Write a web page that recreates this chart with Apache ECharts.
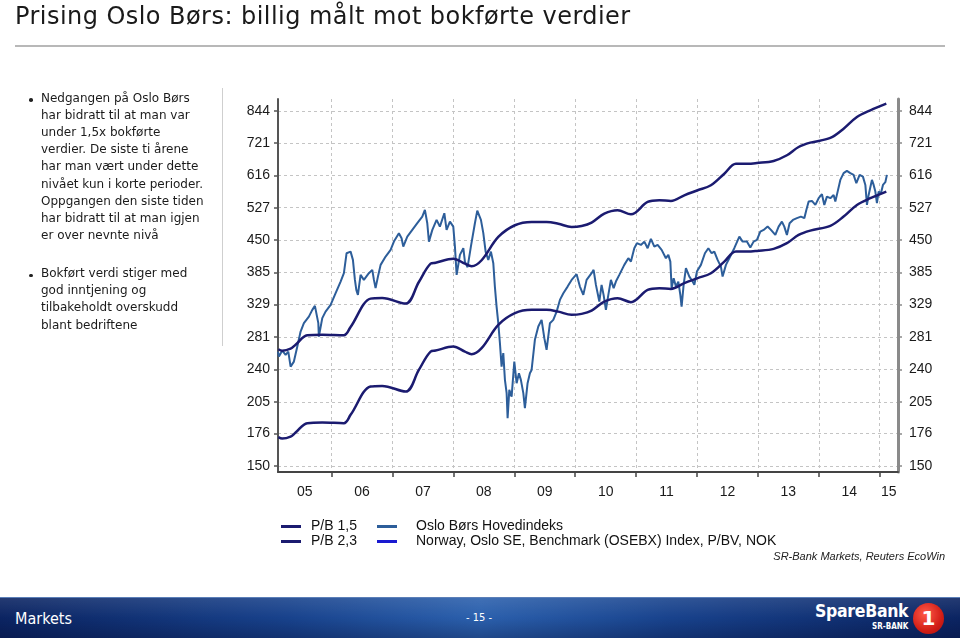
<!DOCTYPE html>
<html>
<head>
<meta charset="utf-8">
<script src="https://cdn.jsdelivr.net/npm/echarts@6/dist/echarts.min.js"></script>
<style>
html,body{margin:0;padding:0;background:#fff;width:960px;height:640px;overflow:hidden;}
#chart{position:absolute;left:0;top:0;width:960px;height:640px;}
.title{position:absolute;left:15px;top:4px;font-family:"DejaVu Sans",Verdana,sans-serif;font-size:24px;line-height:24px;letter-spacing:0.45px;color:#1a1a1a;white-space:nowrap;}
.rule{position:absolute;left:15px;top:45px;width:930px;height:2px;background:#b8b8b8;}
.divider{position:absolute;left:222px;top:88px;width:1px;height:258px;background:#cfcfcf;}
.b{position:absolute;left:41px;font-family:"DejaVu Sans",Verdana,sans-serif;font-size:12px;line-height:17.2px;color:#1a1a1a;white-space:nowrap;}
.b:before{content:"";position:absolute;left:-12px;top:8.5px;width:3.6px;height:3.6px;border-radius:50%;background:#222;}
.footer{position:absolute;left:0;top:597px;width:960px;height:41px;background:linear-gradient(90deg,#0b2462 0%,#18428c 30%,#2b60ad 50%,#18428c 70%,#0b2462 100%);border-top:1px solid #5b7fb8;box-sizing:border-box;}
.footer .shade{position:absolute;left:0;top:0;right:0;bottom:0;background:linear-gradient(180deg,rgba(255,255,255,0.10) 0%,rgba(255,255,255,0) 50%,rgba(0,0,30,0.25) 100%);}
.mk{position:absolute;left:15px;top:610px;font-family:"DejaVu Sans Condensed","Liberation Sans Narrow",sans-serif;font-size:16px;line-height:17px;color:#fff;}
.pg{position:absolute;left:466px;top:612px;font-family:"DejaVu Sans Condensed",sans-serif;font-size:11px;line-height:12px;color:#fff;}
.sb{position:absolute;left:815px;top:602px;font-family:"DejaVu Sans Condensed","Liberation Sans Narrow",sans-serif;font-weight:bold;font-size:17.5px;line-height:18px;color:#fff;letter-spacing:-0.3px;}
.sr{position:absolute;left:872px;top:622px;font-family:"DejaVu Sans Condensed",sans-serif;font-weight:bold;font-size:8px;line-height:9px;color:#fff;}
.one{position:absolute;left:913px;top:603px;width:31px;height:31px;border-radius:50%;background:radial-gradient(circle at 40% 35%,#ff5a4a,#d21e16 60%,#a50f0c);color:#fff;font-family:"DejaVu Sans",sans-serif;font-weight:bold;font-size:20px;line-height:31px;text-align:center;}
</style>
</head>
<body>
<div id="chart"></div>
<div class="title">Prising Oslo Børs: billig målt mot bokførte verdier</div>
<div class="rule"></div>
<div class="divider"></div>
<div class="b" style="top:89.5px">Nedgangen på Oslo Børs<br>har bidratt til at man var<br>under 1,5x bokførte<br>verdier. De siste ti årene<br>har man vært under dette<br>nivået kun i korte perioder.<br>Oppgangen den siste tiden<br>har bidratt til at man igjen<br>er over nevnte nivå</div>
<div class="b" style="top:265px">Bokført verdi stiger med<br>god inntjening og<br>tilbakeholdt overskudd<br>blant bedriftene</div>
<div class="footer"><div class="shade"></div></div>
<div class="mk">Markets</div>
<div class="pg">- 15 -</div>
<div class="sb">SpareBank</div>
<div class="sr">SR-BANK</div>
<div class="one">1</div>
<script>
// ---------- data ----------
const yTickValues = [150, 176, 205, 240, 281, 329, 385, 450, 527, 616, 721, 844];
const yearTicks = [2006, 2007, 2008, 2009, 2010, 2011, 2012, 2013, 2014, 2015];
const yearLabels = ['05', '06', '07', '08', '09', '10', '11', '12', '13', '14', '15'];

const pbYears = [2005.125, 2005.19, 2005.327, 2005.409, 2005.60, 2005.847, 2006.202, 2006.312, 2006.640, 2006.83,
  2007.215, 2007.433, 2007.626, 2007.708, 2007.998, 2008.189, 2008.299, 2008.463, 2008.737, 2009.010,
  2009.284, 2009.530, 2009.722, 2009.941, 2010.105, 2010.269, 2010.478, 2010.696, 2010.915, 2011.189,
  2011.381, 2011.571, 2011.791, 2012.010, 2012.228, 2012.448, 2012.639, 2012.831, 2012.984, 2013.258,
  2013.476, 2013.668, 2013.860, 2014.189, 2014.407, 2014.626, 2014.846, 2015.108];
const pb15 = [172.7, 171.5, 173.2, 176.6, 184.9, 185.4, 184.9, 192.5, 220.9, 221.6,
  215.6, 239.5, 261.8, 263.1, 268.3, 261.8, 258.6, 266.2, 298.1, 315.6,
  320.7, 320.7, 318.0, 313.0, 314.5, 319.6, 333.9, 339.5, 332.9, 353.4,
  356.4, 355.1, 365.1, 374.1, 383.3, 405.5, 425.7, 425.7, 427.2, 431.4,
  443.5, 461.7, 471.5, 482.4, 504.7, 534.2, 551.9, 569.9];
const pb23 = [264.8, 263.0, 265.6, 270.8, 283.5, 284.3, 283.5, 295.2, 338.7, 339.8,
  330.6, 367.2, 401.4, 403.4, 411.4, 401.4, 396.5, 408.2, 457.1, 483.9,
  491.7, 491.7, 487.6, 479.9, 482.2, 490.1, 512.0, 520.6, 510.4, 541.9,
  546.5, 544.5, 559.8, 573.6, 587.7, 621.8, 652.7, 652.7, 655.0, 661.5,
  680.0, 707.9, 723.0, 739.7, 773.9, 819.1, 846.2, 873.8];

const idxYears = [2005.12, 2005.135, 2005.19, 2005.245, 2005.289, 2005.327, 2005.381, 2005.437, 2005.491, 2005.545,
  2005.627, 2005.683, 2005.726, 2005.754, 2005.782, 2005.791, 2005.847, 2005.901, 2005.984, 2006.066,
  2006.148, 2006.202, 2006.246, 2006.312, 2006.350, 2006.383, 2006.406, 2006.432, 2006.476, 2006.530,
  2006.612, 2006.668, 2006.695, 2006.722, 2006.767, 2006.805, 2006.887, 2006.969, 2007.023, 2007.105,
  2007.149, 2007.177, 2007.243, 2007.325, 2007.407, 2007.489, 2007.532, 2007.571, 2007.598, 2007.654,
  2007.724, 2007.778, 2007.851, 2007.888, 2007.943, 2007.998, 2008.025, 2008.053, 2008.107, 2008.163,
  2008.189, 2008.233, 2008.287, 2008.353, 2008.392, 2008.452, 2008.491, 2008.529, 2008.573, 2008.616,
  2008.655, 2008.681, 2008.709, 2008.737, 2008.764, 2008.791, 2008.819, 2008.846, 2008.874, 2008.890,
  2008.918, 2008.956, 2009.000, 2009.038, 2009.076, 2009.108, 2009.148, 2009.174, 2009.218, 2009.256,
  2009.284, 2009.338, 2009.394, 2009.448, 2009.493, 2009.530, 2009.585, 2009.640, 2009.695, 2009.749,
  2009.805, 2009.875, 2009.941, 2010.023, 2010.077, 2010.133, 2010.187, 2010.269, 2010.302, 2010.340,
  2010.396, 2010.433, 2010.466, 2010.504, 2010.544, 2010.586, 2010.631, 2010.668, 2010.724, 2010.806,
  2010.872, 2010.915, 2010.970, 2011.013, 2011.079, 2011.135, 2011.189, 2011.243, 2011.299, 2011.353,
  2011.419, 2011.489, 2011.529, 2011.562, 2011.583, 2011.616, 2011.654, 2011.693, 2011.726, 2011.747,
  2011.780, 2011.818, 2011.874, 2011.928, 2011.956, 2011.998, 2012.064, 2012.130, 2012.186, 2012.240,
  2012.284, 2012.338, 2012.392, 2012.420, 2012.475, 2012.530, 2012.612, 2012.695, 2012.749, 2012.819,
  2012.875, 2012.929, 2012.984, 2013.039, 2013.094, 2013.159, 2013.214, 2013.286, 2013.340, 2013.394,
  2013.433, 2013.476, 2013.520, 2013.575, 2013.640, 2013.706, 2013.762, 2013.795, 2013.833, 2013.887,
  2013.943, 2013.997, 2014.051, 2014.090, 2014.133, 2014.189, 2014.243, 2014.271, 2014.309, 2014.353,
  2014.407, 2014.461, 2014.517, 2014.571, 2014.616, 2014.670, 2014.724, 2014.764, 2014.790, 2014.818,
  2014.872, 2014.900, 2014.928, 2014.954, 2014.982, 2015.020, 2015.053, 2015.092, 2015.118];
const idxValues = [261.8, 255.5, 263.1, 257.7, 261.8, 243.4, 249.4, 268.3, 288.6, 300.6,
  310.4, 320.7, 327.0, 328.6, 300.6, 281.6, 308.0, 318.0, 328.6, 347.8,
  368.0, 383.3, 422.4, 425.7, 408.9, 371.0, 353.4, 344.9, 380.1, 371.0,
  383.3, 389.5, 371.0, 356.4, 380.1, 399.1, 415.5, 429.3, 446.9, 465.6,
  454.4, 436.2, 457.9, 473.1, 488.7, 504.7, 521.4, 488.7, 446.9, 473.1,
  496.6, 480.8, 513.1, 473.1, 492.6, 480.8, 436.2, 380.1, 419.0, 432.8,
  405.5, 394.6, 436.2, 488.7, 519.6, 496.6, 465.6, 425.7, 408.9, 425.7,
  402.4, 359.1, 325.9, 300.6, 272.7, 243.4, 259.8, 228.2, 213.9, 189.4,
  217.4, 210.4, 249.4, 224.5, 235.7, 228.2, 213.9, 198.9, 224.5, 235.7,
  239.5, 277.2, 295.7, 305.5, 279.5, 264.0, 300.6, 305.5, 318.0, 336.6,
  347.8, 359.1, 371.0, 381.4, 359.1, 344.9, 371.0, 383.3, 389.5, 362.1,
  333.9, 362.1, 344.9, 320.7, 344.9, 371.0, 356.4, 368.0, 380.1, 399.1,
  412.3, 405.5, 432.8, 443.5, 439.8, 446.9, 432.8, 452.8, 436.2, 439.8,
  429.3, 412.3, 419.0, 405.5, 356.4, 374.1, 359.1, 368.0, 344.9, 325.9,
  362.1, 392.7, 377.0, 368.0, 362.1, 386.3, 399.1, 422.4, 432.8, 422.4,
  425.7, 408.9, 395.8, 377.0, 399.1, 412.3, 432.8, 457.9, 446.9, 446.9,
  434.1, 446.9, 450.6, 469.2, 473.1, 480.8, 473.1, 461.7, 480.8, 492.6,
  480.8, 461.7, 488.7, 496.6, 500.8, 504.7, 500.8, 521.4, 542.9, 544.7,
  534.2, 551.9, 562.8, 534.2, 556.3, 551.9, 560.8, 542.9, 569.9, 603.2,
  623.3, 630.3, 623.3, 618.1, 593.7, 618.1, 613.0, 588.7, 534.2, 560.8,
  603.2, 588.7, 569.9, 538.7, 569.9, 565.5, 588.7, 596.6, 618.1];

const seriesNames = ['P/B 1,5', 'P/B 2,3', 'Oslo Børs Hovedindeks', 'Norway, Oslo SE, Benchmark (OSEBX) Index, P/BV, NOK'];

// ---------- chart ----------
const xMin = 2005.12, xMax = 2015.30;
const yMin = 145.8, yMax = 894;
const labelPos = yearLabels.map(l => {
  const y = 2000 + parseInt(l, 10);
  return (Math.max(y, xMin) + Math.min(y + 1, xMax)) / 2;
});
const zip = (xs, ys) => xs.map((x, i) => [x, ys[i]]);
const font = '"Liberation Sans", Arial, sans-serif';
const gridLine = { show: true, lineStyle: { color: '#c4c4c4', type: [3, 3], width: 1 } };

const yAxisBase = (pos) => ({
  type: 'log', logBase: 10, min: yMin, max: yMax, position: pos,
  axisLine: { show: true, lineStyle: { color: pos === 'left' ? '#555' : '#8a8a8a', width: pos === 'left' ? 2 : 3 } },
  axisTick: { show: true, customValues: yTickValues, length: 4, lineStyle: { color: pos === 'left' ? '#555' : '#8a8a8a', width: 1.5 } },
  axisLabel: { customValues: yTickValues, formatter: v => String(Math.round(v)), margin: pos === 'left' ? 8 : 11, fontSize: 14, color: '#1a1a1a', fontFamily: font },
  splitLine: pos === 'left' ? gridLine : { show: false }
});

const legendText = (padLeft) => ({ fontSize: 14, lineHeight: 14, color: '#111', fontFamily: font, padding: [0, 0, 0, padLeft] });

const chart = echarts.init(document.getElementById('chart'));
chart.setOption({
  animation: false,
  grid: { left: 278, right: 62, top: 99, bottom: 168 },
  xAxis: {
    type: 'value', min: xMin, max: xMax,
    axisLine: { lineStyle: { color: '#444', width: 2 } },
    axisTick: { show: true, customValues: yearTicks, length: 5, lineStyle: { color: '#444', width: 1.5 } },
    axisLabel: { customValues: labelPos, formatter: v => String(Math.floor(v)).slice(-2), margin: 13, fontSize: 14, color: '#1a1a1a', fontFamily: font },
    splitLine: gridLine
  },
  yAxis: [yAxisBase('left'), yAxisBase('right')],
  legend: [
    { data: [seriesNames[0], seriesNames[1]], left: 281, top: 519.5, orient: 'vertical', itemGap: 1, padding: 0,
      itemWidth: 20, itemHeight: 3, icon: 'rect', selectedMode: false, textStyle: legendText(5) },
    { data: [seriesNames[2], seriesNames[3]], left: 377, top: 519.5, orient: 'vertical', itemGap: 1, padding: 0,
      itemWidth: 20, itemHeight: 3, icon: 'rect', selectedMode: false, textStyle: legendText(14) }
  ],
  graphic: [
    { type: 'text', right: 15, top: 551, style: { text: 'SR-Bank Markets, Reuters EcoWin', font: 'italic 11px "Liberation Sans", Arial, sans-serif', fill: '#222' } }
  ],
  series: [
    { name: seriesNames[0], type: 'line', data: zip(pbYears, pb15), showSymbol: false, symbol: 'none', smooth: 0.35,
      color: '#1b1b70', lineStyle: { width: 2.5, color: '#1b1b70' }, z: 3 },
    { name: seriesNames[1], type: 'line', data: zip(pbYears, pb23), showSymbol: false, symbol: 'none', smooth: 0.35,
      color: '#1b1b70', lineStyle: { width: 2.5, color: '#1b1b70' }, z: 3 },
    { name: seriesNames[2], type: 'line', data: zip(idxYears, idxValues), showSymbol: false, symbol: 'none',
      color: '#2d5e9a', lineStyle: { width: 2, color: '#2d5e9a' }, z: 2 },
    { name: seriesNames[3], type: 'line', data: [], showSymbol: false, symbol: 'none',
      color: '#1a1ad0', lineStyle: { width: 2, color: '#1a1ad0' }, z: 1 }
  ]
});
</script>
</body>
</html>
